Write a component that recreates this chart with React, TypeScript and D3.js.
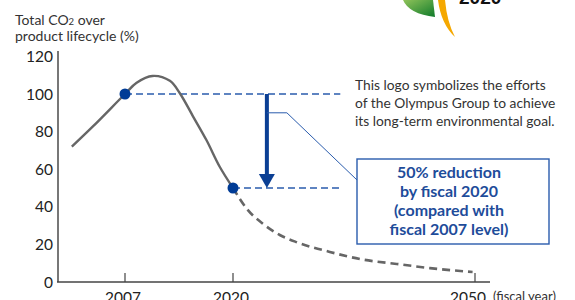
import React from "react";
import * as d3 from "d3";

// chart data
const yTicks = [0, 20, 40, 60, 80, 100, 120];
const xTicks = [2007, 2020, 2050];
const xTickLabels = ["2007", "2020", "2050"];

// actual (solid) curve
const solidYears = [2000.6, 2003.2, 2007, 2008.4, 2010.3, 2012.4, 2013.6, 2015.2, 2016.8, 2018.4, 2020];
const solidValues = [72, 83, 100, 106, 109.6, 107, 100.4, 88, 75.5, 61.3, 50];

// projected (dashed) curve
const dashYears = [2020, 2021.7, 2023.7, 2025.8, 2028, 2032, 2036, 2040.3, 2044.4, 2049.7];
const dashValues = [50, 39, 31, 25, 21, 16, 12, 9.6, 7.4, 5.3];

// milestone points
const milestoneYears = [2007, 2020];
const milestoneValues = [100, 50];
const guideEndYear = 2033.3;
const arrowYear = 2024.2;

const noteLines = [
  "This logo symbolizes the efforts",
  "of the Olympus Group to achieve",
  "its long-term environmental goal.",
];
const boxLines = [
  "50% reduction",
  "by fiscal 2020",
  "(compared with",
  "fiscal 2007 level)",
];

const W = 575;
const H = 300;
const FONT = "Lato, 'Noto Sans', sans-serif";

const App = () => {
  // the x axis is not to scale: 2007-2020 is wider than 2020-2050
  const x = d3.scaleLinear().domain([2007, 2020, 2050]).range([125, 233, 475]);
  const y = d3.scaleLinear().domain([0, 120]).range([282, 56.4]);

  const solid = solidYears.map((yr, i) => [yr, solidValues[i]] as [number, number]);
  const dashed = dashYears.map((yr, i) => [yr, dashValues[i]] as [number, number]);

  const line = d3
    .line<[number, number]>()
    .x((d) => x(d[0]))
    .y((d) => y(d[1]))
    .curve(d3.curveCatmullRom);

  const dashLine = d3
    .line<[number, number]>()
    .x((d) => x(d[0]))
    .y((d) => y(d[1]))
    .curve(d3.curveMonotoneX);

  const blue = "#0b3f94";
  const guideBlue = "#2a5cad";
  const ax = x(arrowYear);
  const headTop = y(57.4);
  const tip = y(50);

  // callout box
  const box = { x: 357, y: 159, w: 192, h: 85 };
  // 2050 label sits a little left of its tick in the original
  const labelShift = [-2, -2, -7];

  return (
    <svg
      width={W}
      height={H}
      style={{ position: "absolute", left: 0, top: 0, background: "#fff" }}
      fontFamily={FONT}
    >
      {/* logo fragment, top right */}
      <defs>
        <linearGradient id="leaf" x1="0" y1="0" x2="1" y2="1">
          <stop offset="0" stopColor="#8fc35a" />
          <stop offset="1" stopColor="#0f7a2a" />
        </linearGradient>
      </defs>
      <path d="M403,0 Q409,14 435,17 L433,0 Z" fill="url(#leaf)" />
      <path d="M438,0 Q441,24 455,37 Q447,22 445,0 Z" fill="#f5a800" />
      <text x={459} y={4} fontSize={19} fontWeight="bold" fill="#111" fontFamily="'Liberation Sans', Arial, sans-serif">
        2020
      </text>

      {/* title */}
      <text x={15} y={25} fontSize={14} fill="#333">
        <tspan>Total CO</tspan>
        <tspan fontSize={9.5}>2</tspan>
        <tspan> over</tspan>
      </text>
      <text x={15} y={41} fontSize={14} fill="#333">
        product lifecycle (%)
      </text>

      {/* y axis */}
      <line x1={58} x2={58} y1={51} y2={y(0)} stroke="#777" strokeWidth={2} />
      {yTicks.map((t) => (
        <text key={t} x={53} y={y(t)} dy="0.36em" textAnchor="end" fontSize={15.5} fill="#222">
          {t}
        </text>
      ))}

      {/* x axis */}
      <line x1={57} x2={490} y1={y(0)} y2={y(0)} stroke="#444" strokeWidth={1.4} />
      {xTicks.map((t, i) => (
        <g key={t}>
          <line x1={x(t)} x2={x(t)} y1={y(0)} y2={y(0) - 9} stroke="#444" strokeWidth={1.2} />
          <text x={x(t) + labelShift[i]} y={303} textAnchor="middle" fontSize={15.5} fill="#222">
            {xTickLabels[i]}
          </text>
        </g>
      ))}
      <text x={493} y={301} fontSize={13} fill="#333">
        (fiscal year)
      </text>

      {/* guide lines */}
      {milestoneYears.map((yr, i) => (
        <line
          key={yr}
          x1={x(yr)}
          x2={x(guideEndYear)}
          y1={y(milestoneValues[i])}
          y2={y(milestoneValues[i])}
          stroke={guideBlue}
          strokeWidth={1.3}
          strokeDasharray="7,4"
        />
      ))}

      {/* curves */}
      <path d={line(solid) ?? ""} fill="none" stroke="#666" strokeWidth={2.4} />
      <path d={dashLine(dashed) ?? ""} fill="none" stroke="#666" strokeWidth={2.6} strokeDasharray="8,5" />

      {/* arrow */}
      <rect x={ax - 2} y={y(100)} width={4} height={headTop - y(100)} fill={blue} />
      <path d={`M${ax - 8},${headTop} L${ax + 8},${headTop} L${ax},${tip} Z`} fill={blue} />

      {/* leader to callout */}
      <polyline
        points={`${ax},${y(90)} ${ax + 20},${y(90)} ${box.x},${180}`}
        fill="none"
        stroke={guideBlue}
        strokeWidth={1}
      />

      {/* milestone dots */}
      {milestoneYears.map((yr, i) => (
        <circle key={yr} cx={x(yr)} cy={y(milestoneValues[i])} r={5.5} fill="#003c96" />
      ))}

      {/* note */}
      {noteLines.map((s, i) => (
        <text key={s} x={355} y={90 + i * 18} fontSize={13.8} fill="#333">
          {s}
        </text>
      ))}

      {/* callout box */}
      <rect x={box.x} y={box.y} width={box.w} height={box.h} fill="#fff" stroke={guideBlue} strokeWidth={1.4} />
      {boxLines.map((s, i) => (
        <text
          key={s}
          x={box.x + box.w / 2 - 4}
          y={178 + i * 19}
          textAnchor="middle"
          fontSize={16}
          fontWeight="bold"
          fill="#1e4c9a"
        >
          {s}
        </text>
      ))}
    </svg>
  );
};

export default App;
